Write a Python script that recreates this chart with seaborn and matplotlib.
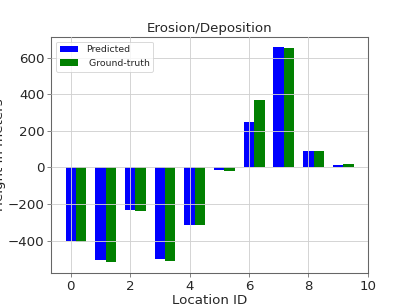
import numpy as np
import pandas as pd
import matplotlib
matplotlib.use("Agg")
import matplotlib.pyplot as plt
import seaborn as sns

location_ids = [0, 1, 2, 3, 4, 5, 6, 7, 8, 9]
predicted = [-400, -509, -235, -500, -315, -13, 250, 656, 90, 15]
ground_truth = [-407, -518, -238, -511, -316, -18, 367, 652, 89, 20]

series_names = ["Predicted", " Ground-truth"]
colores = ["blue", "green"]

df = pd.DataFrame({
    "loc": location_ids * 2,
    "valor": predicted + ground_truth,
    "serie": [series_names[0]] * len(location_ids) + [series_names[1]] * len(location_ids),
})
# desplazar para que la barra azul quede centrada en el id
df["pos"] = df["loc"] + 0.175

sns.set_style("white")
plt.rcParams["font.family"] = ["DejaVu Sans"]

fig = plt.figure(figsize=(409 / 64, 307 / 64), dpi=64)
ax = fig.add_axes([0.125, 0.11, 0.775, 0.77])

sns.barplot(
    data=df, x="pos", y="valor", hue="serie", hue_order=series_names,
    palette=colores, native_scale=True, width=0.7, dodge=True,
    saturation=1, errorbar=None, linewidth=0, gap=0, ax=ax,
)

ax.set_xlim(-0.66, 10.01)
ax.set_ylim(-579, 714)
ax.set_xticks([0, 2, 4, 6, 8, 10])
ax.set_yticks([-400, -200, 0, 200, 400, 600])
ax.tick_params(labelsize=15, length=4, color="#555555", direction="out",
               bottom=True, left=True)
ax.set_axisbelow(False)
ax.grid(True, color="#d0d0d0", linewidth=1)
for sp in ax.spines.values():
    sp.set_color("#666666")
    sp.set_linewidth(1.2)

ax.set_title("Erosion/Deposition", fontsize=15)
ax.set_xlabel("Location ID", fontsize=15, labelpad=1)
ax.set_ylabel("Height in meters", fontsize=15, labelpad=2)

ax.legend(loc="upper left", fontsize=10.5, frameon=True, handlelength=2)

fig.savefig("out.png", dpi=64)
